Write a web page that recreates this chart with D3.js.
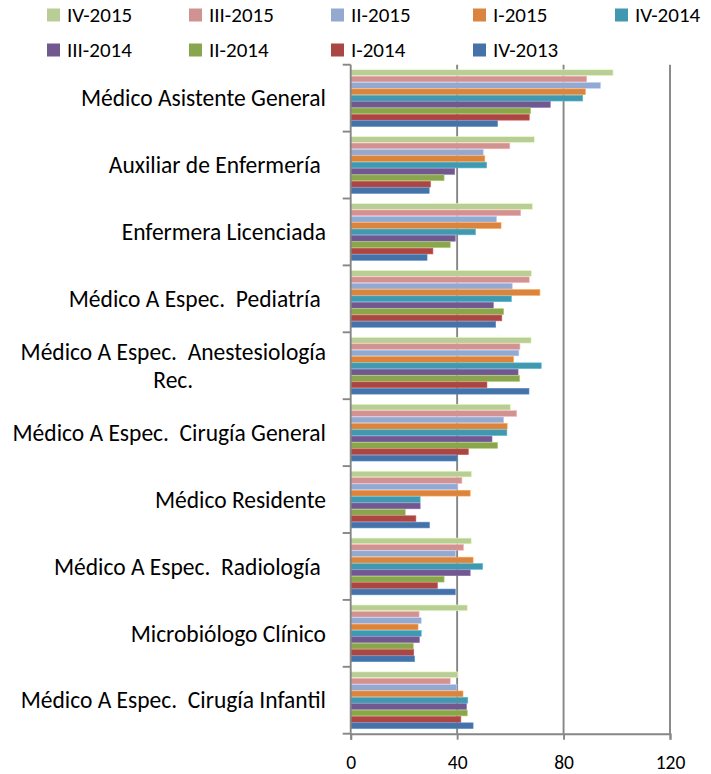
<!DOCTYPE html>
<html>
<head>
<meta charset="utf-8">
<script src="https://cdn.jsdelivr.net/npm/d3@7"></script>
<style>
  html, body { margin: 0; padding: 0; background: #fff; }
  svg { display: block; }
  text { font-family: Carlito, Calibri, Lato, "Open Sans", sans-serif; fill: #000; white-space: pre; }
</style>
</head>
<body>
<svg id="chart" width="711" height="774"></svg>
<script>
// ---------------- data ----------------
const categories = [
  "Médico Asistente General",
  "Auxiliar de Enfermería ",
  "Enfermera Licenciada",
  "Médico A Espec.  Pediatría ",
  "Médico A Espec.  Anestesiología Rec.",
  "Médico A Espec.  Cirugía General",
  "Médico Residente",
  "Médico A Espec.  Radiología ",
  "Microbiólogo Clínico",
  "Médico A Espec.  Cirugía Infantil"
];

// series, listed top-to-bottom within each category group
const seriesNames = ["IV-2015", "III-2015", "II-2015", "I-2015", "IV-2014", "III-2014", "II-2014", "I-2014", "IV-2013"];

const valuesIV2015  = [98.6, 69.0, 68.3, 67.9, 67.8, 60.0, 45.4, 45.3, 43.8, 40.2];
const valuesIII2015 = [88.7, 59.8, 63.9, 67.1, 63.6, 62.4, 41.8, 42.4, 25.7, 37.4];
const valuesII2015  = [93.9, 49.8, 54.8, 60.7, 63.2, 57.5, 40.2, 39.4, 26.5, 39.9];
const valuesI2015   = [88.2, 50.4, 56.5, 71.1, 61.2, 58.8, 44.9, 46.0, 25.3, 42.2];
const valuesIV2014  = [87.2, 51.1, 46.9, 60.4, 71.6, 58.7, 26.1, 49.6, 26.5, 44.0];
const valuesIII2014 = [75.0, 39.1, 39.3, 53.6, 62.9, 53.1, 26.1, 44.9, 25.8, 43.5];
const valuesII2014  = [67.6, 35.1, 37.4, 57.5, 63.5, 55.2, 20.5, 35.1, 23.5, 43.8];
const valuesI2014   = [67.1, 30.0, 30.9, 56.8, 51.2, 44.2, 24.5, 32.6, 23.7, 41.4];
const valuesIV2013  = [55.2, 29.5, 28.7, 54.5, 67.0, 40.0, 29.6, 39.3, 24.0, 46.0];

const seriesValues = [valuesIV2015, valuesIII2015, valuesII2015, valuesI2015, valuesIV2014,
                      valuesIII2014, valuesII2014, valuesI2014, valuesIV2013];

const seriesColors = ["#B9CD96", "#D19392", "#93A9CF", "#DB843D", "#4198AF",
                      "#71588F", "#89A54E", "#AA4643", "#4572A7"];

const xTicks = [0, 40, 80, 120];

// legend order (two rows)
const legendRow1 = ["IV-2015", "III-2015", "II-2015", "I-2015", "IV-2014"];
const legendRow2 = ["III-2014", "II-2014", "I-2014", "IV-2013"];

// ---------------- chart ----------------
const svg = d3.select("#chart");
const plot = { left: 350.7, right: 670, top: 64.7, bottom: 733.7 };
const gridColor = "#868686";

const x = d3.scaleLinear().domain([0, 120]).range([plot.left, plot.right]);
const y = d3.scaleBand().domain(categories).range([plot.top, plot.bottom]).padding(0);
const ySub = d3.scaleBand().domain(seriesNames).range([0, y.bandwidth()])
  .paddingInner(0).paddingOuter(0.75);
const color = d3.scaleOrdinal().domain(seriesNames).range(seriesColors);

// gridlines
svg.append("g").selectAll("line")
  .data(xTicks.filter(d => d > 0))
  .join("line")
  .attr("x1", d => x(d)).attr("x2", d => x(d))
  .attr("y1", plot.top).attr("y2", plot.bottom)
  .attr("stroke", gridColor).attr("stroke-width", 1.9);

// bars
const flat = [];
categories.forEach((c, ci) => {
  seriesNames.forEach((s, si) => flat.push({ cat: c, series: s, value: seriesValues[si][ci] }));
});

svg.append("g").selectAll("rect")
  .data(flat)
  .join("rect")
  .attr("x", x(0))
  .attr("y", d => y(d.cat) + ySub(d.series) + 0.3)
  .attr("width", d => x(d.value) - x(0))
  .attr("height", ySub.bandwidth() - 0.6)
  .attr("fill", d => color(d.series))
  .attr("stroke", d => d3.color(color(d.series)).brighter(0.6))
  .attr("stroke-width", 0.6);

// x axis
const xAxis = svg.append("g")
  .attr("transform", `translate(0,${plot.bottom})`)
  .call(d3.axisBottom(x).tickValues(xTicks).tickSize(6).tickPadding(15).tickFormat(d3.format("d")));
xAxis.select(".domain").attr("stroke", gridColor).attr("stroke-width", 1.9);
xAxis.selectAll(".tick line").attr("stroke", gridColor).attr("stroke-width", 1.9);
xAxis.selectAll(".tick text").attr("font-size", 19.5).style("font-family", null);

// y axis line and boundary ticks
svg.append("line")
  .attr("x1", plot.left).attr("x2", plot.left)
  .attr("y1", plot.top).attr("y2", plot.bottom)
  .attr("stroke", gridColor).attr("stroke-width", 1.9);
const boundaries = categories.map(c => y(c)).concat([plot.bottom]);
svg.append("g").selectAll("line")
  .data(boundaries)
  .join("line")
  .attr("x1", plot.left - 8).attr("x2", plot.left)
  .attr("y1", d => d).attr("y2", d => d)
  .attr("stroke", gridColor).attr("stroke-width", 1.9);

// category labels (wrapped, centered lines, right-aligned block)
const labelFont = 23.5;
const labelRight = 326;
const maxLabelWidth = 330;
const labels = svg.append("g");
function measure(str) {
  const t = labels.append("text").attr("font-size", labelFont).text(str);
  const w = t.node().getComputedTextLength(); t.remove(); return w;
}
categories.forEach(c => {
  const cy = y(c) + y.bandwidth() / 2;
  let lines = [c];
  if (measure(c) > maxLabelWidth) {
    const words = c.split(" ");
    lines = [];
    let cur = null;
    words.forEach(w => {
      const test = cur === null ? w : cur + " " + w;
      if (cur !== null && measure(test.trimEnd()) > maxLabelWidth) { lines.push(cur); cur = w; }
      else cur = test;
    });
    if (cur !== null) lines.push(cur);
  }
  const lineH = 28.5;
  const blockW = d3.max(lines, l => measure(l));
  const multi = lines.length > 1;
  const ax = multi ? labelRight - blockW / 2 : labelRight;
  const t = labels.append("text")
    .attr("text-anchor", multi ? "middle" : "end")
    .attr("font-size", labelFont);
  lines.forEach((l, i) => {
    t.append("tspan")
      .attr("x", ax)
      .attr("y", cy + (i - (lines.length - 1) / 2) * lineH)
      .attr("dy", "0.35em")
      .text(l);
  });
});

// legend
const legend = svg.append("g");
const legendX0 = 47, legendStep = 142, legendRowY = [15, 50], sq = 13;
[legendRow1, legendRow2].forEach((row, ri) => {
  row.forEach((name, i) => {
    const g = legend.append("g").attr("transform", `translate(${legendX0 + i * legendStep},${legendRowY[ri]})`);
    g.append("rect").attr("x", 0).attr("y", -sq / 2).attr("width", sq).attr("height", sq)
      .attr("fill", color(name));
    g.append("text").attr("x", 20).attr("y", 0).attr("dy", "0.35em")
      .attr("font-size", 21).text(name);
  });
});
</script>
</body>
</html>
